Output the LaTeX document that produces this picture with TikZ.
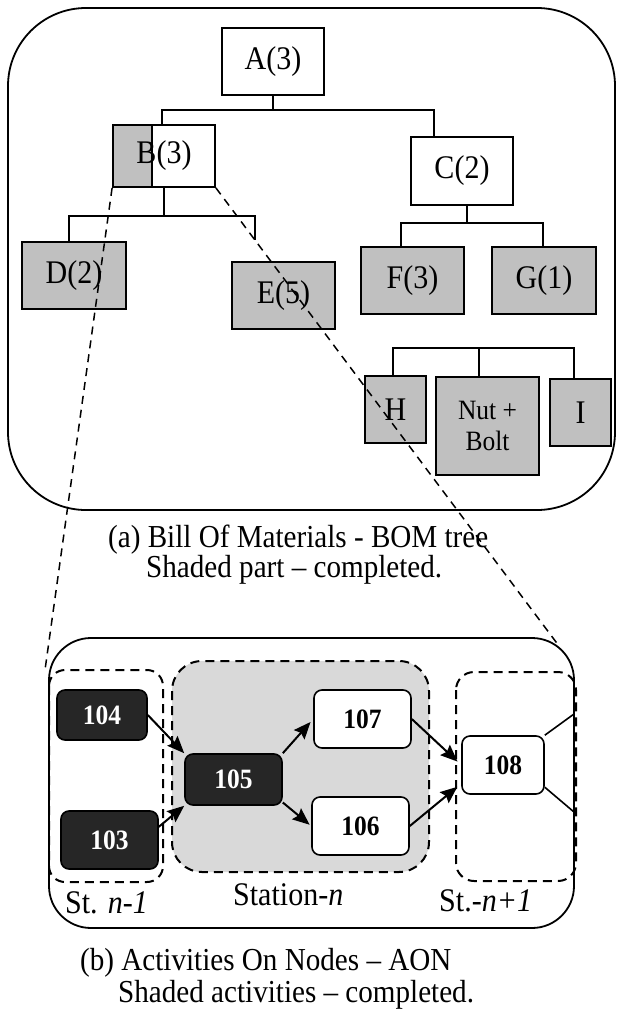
\documentclass[tikz,border=0pt]{standalone}
\usepackage{fontspec}
\usepackage{graphicx}
\setmainfont{Liberation Serif}
\usetikzlibrary{arrows.meta,calc}
\definecolor{bomgray}{RGB}{192,192,192}
\definecolor{stgray}{RGB}{217,217,217}
\definecolor{darknode}{RGB}{38,38,38}
\newcommand{\hs}[1]{\scalebox{0.91}[1]{#1}}
\begin{document}
\begin{tikzpicture}[x=1pt,y=-1pt,
  bom/.style={draw, line width=1.8pt, inner sep=0pt, align=center, font=\fontsize{33}{34}\selectfont},
  bomsh/.style={bom, fill=bomgray},
  tree/.style={line width=1.6pt},
  frame/.style={line width=1.8pt},
  station/.style={line width=2pt, dash pattern=on 9pt off 6pt},
  act/.style={draw, fill=white, line width=1.6pt, rounded corners=8pt, inner sep=0pt, font=\fontsize{28}{30}\selectfont\bfseries},
  actdone/.style={act, fill=darknode, text=white},
  flow/.style={line width=2pt, -{Stealth[length=17pt,width=14pt,inset=2.5pt]}},
  zoomline/.style={line width=1.5pt, dash pattern=on 8pt off 6pt},
  lbl/.style={font=\fontsize{33}{34}\selectfont, inner sep=0pt},
  captxt/.style={font=\fontsize{32}{34}\selectfont, inner sep=0pt}]

\useasboundingbox (0,0) rectangle (616,1009);

% ---------- (a) BOM tree ----------
\draw[frame, rounded corners=78pt] (8,8) rectangle (615,510);

\node[bom, minimum width=102pt, minimum height=67pt] (A) at (273,61.5) {\hs{A(3)}};
\node[bom, minimum width=102pt, minimum height=62pt,
  path picture={
    \fill[bomgray] (path picture bounding box.north west) rectangle ([xshift=39pt]path picture bounding box.south west);
    \draw[line width=1.8pt] ([xshift=39pt]path picture bounding box.north west) -- ([xshift=39pt]path picture bounding box.south west);
  }] (B) at (164,156) {\hs{B(3)}};
\node[bom, minimum width=102pt, minimum height=68pt] (C) at (462,171) {\hs{C(2)}};
\node[bomsh, minimum width=104pt, minimum height=67pt] (D) at (74,275.5) {\hs{D(2)}};
\node[bomsh, minimum width=103pt, minimum height=67pt] (E) at (283.5,295.5) {\hs{E(5)}};
\node[bomsh, minimum width=103pt, minimum height=67pt] (F) at (412.5,280.5) {\hs{F(3)}};
\node[bomsh, minimum width=104pt, minimum height=67pt] (G) at (544,280.5) {\hs{G(1)}};
\node[bomsh, minimum width=61pt, minimum height=67pt] (H) at (395.5,409.5) {\hs{H}};
\node[bomsh, minimum width=103pt, minimum height=98pt, font=\fontsize{28}{31}\selectfont] (NB) at (487.5,426) {\hs{Nut +}\\\hs{Bolt}};
\node[bomsh, minimum width=61pt, minimum height=67pt] (I) at (580.5,412.5) {\hs{I}};

\coordinate (jA) at (273,110);
\coordinate (jB) at (164,216);
\coordinate (jC) at (467,223);
\coordinate (jH) at (479,348);
\coordinate (eEnd) at (255,240);

\draw[tree] (A.south) -- (jA);
\draw[tree] ([xshift=-2pt]B.north) |- (jA) -| ([xshift=-28pt]C.north);
\draw[tree] (B.south) -- (jB);
\draw[tree] ([xshift=-5pt]D.north) |- (jB) -| (eEnd);
\draw[tree] ([xshift=5pt]C.south) -- (jC);
\draw[tree] ([xshift=-11.5pt]F.north) |- (jC) -| ([xshift=-1pt]G.north);
\draw[tree] ([xshift=-2.5pt]H.north) |- (jH) -| ([xshift=-6.5pt]I.north);
\draw[tree] (jH) -- ([xshift=-8.5pt]NB.north);

\node[captxt, anchor=base west] (capA1) at (108,547) {\hs{(a) Bill Of Materials - BOM tree}};
\node[captxt, anchor=base west] (capA2) at (146,577) {\hs{Shaded part -- completed.}};

% ---------- (b) AON ----------
\draw[frame, rounded corners=42pt] (49,638) rectangle (574,928);
\draw[station, rounded corners=16pt] (49,670) rectangle (163,882);
\draw[station, fill=stgray, rounded corners=30pt] (172,661) rectangle (429,872);
\draw[station, rounded corners=18pt] (456,672) rectangle (576,881);

\node[actdone, minimum width=90pt, minimum height=50pt] (n104) at (102,715) {\hs{104}};
\node[actdone, minimum width=97pt, minimum height=58pt] (n103) at (109.5,840) {\hs{103}};
\node[actdone, minimum width=97pt, minimum height=51pt] (n105) at (233.5,779.5) {\hs{105}};
\node[act, minimum width=97pt, minimum height=58pt] (n107) at (362.5,719) {\hs{107}};
\node[act, minimum width=97pt, minimum height=58pt] (n106) at (360.5,826) {\hs{106}};
\node[act, minimum width=82pt, minimum height=58pt] (n108) at (503,765) {\hs{108}};

\draw[flow] (n104.east) -- (n105.north west);
\draw[flow] (n103.15) -- (n105.south west);
\draw[flow, shorten >=4pt] (n105.north east) -- (n107.west);
\draw[flow, shorten >=2pt] (n105.-25) -- (n106.west);
\draw[flow, shorten >=5pt] (n107.east) -- (n108.west);
\draw[flow, shorten >=5pt] (n106.east) -- (n108.204);

\coordinate (r1) at (574,714);
\coordinate (r2) at (574,812);
\draw[line width=1.6pt] (n108.north east) -- (r1);
\draw[line width=1.6pt] (n108.-28) -- (r2);

\node[lbl, anchor=base west] (stL) at (65,913) {\hs{St. \textit{n-1}}};
\node[lbl, anchor=base west] (stM) at (233,905) {\hs{Station-\textit{n}}};
\node[lbl, anchor=base west] (stR) at (439,911) {\hs{St.-\textit{n+1}}};

\node[captxt, anchor=base west] (capB1) at (80,970) {\hs{(b) Activities On Nodes -- AON}};
\node[captxt, anchor=base west] (capB2) at (118,1002) {\hs{Shaded activities -- completed.}};

% ---------- zoom lines ----------
\coordinate (zL) at (45,670);
\coordinate (zR) at (559,646);
\draw[zoomline] (B.south west) -- (zL);
\draw[zoomline] (B.south east) -- (zR);
\end{tikzpicture}
\end{document}
